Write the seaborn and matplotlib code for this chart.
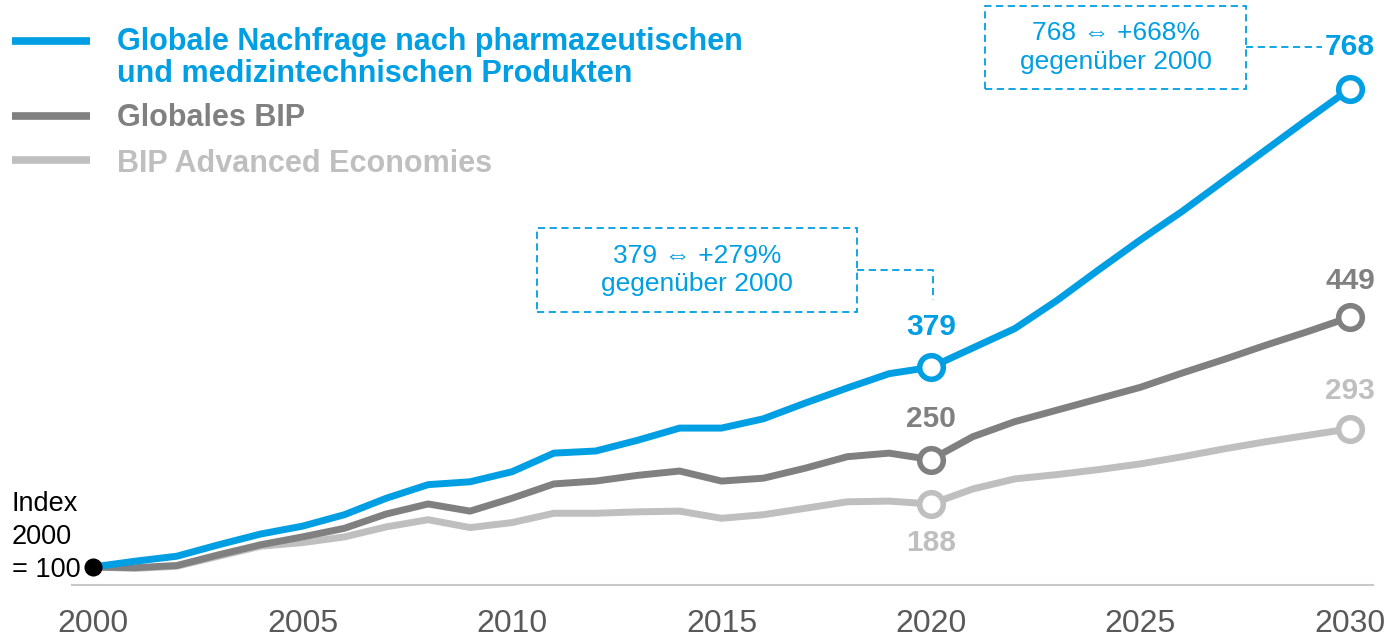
import pandas as pd
import seaborn as sns
import matplotlib.pyplot as plt
from matplotlib.lines import Line2D
from matplotlib.patches import Rectangle

# Werte (Index 2000 = 100)
jahre = list(range(2000, 2031))
nachfrage = [100, 108, 115, 131, 146, 157, 173, 196, 215, 219, 233, 259, 262, 277, 294, 294,
             307, 329, 350, 370, 379, 406, 433, 472, 515, 557, 597, 640, 683, 726, 768]
bip_global = [100, 99, 102, 117, 131, 142, 154, 174, 188, 178, 196, 216, 220, 228, 234, 220,
              224, 238, 254, 259, 250, 282, 303, 319, 335, 351, 371, 390, 410, 429, 449]
bip_advanced = [100, 98, 101, 115, 129, 134, 142, 156, 166, 155, 162, 175, 175, 177, 178, 168,
                173, 182, 191, 192, 188, 209, 223, 229, 236, 244, 254, 265, 275, 284, 293]

reihen = ["Globale Nachfrage nach pharmazeutischen\nund medizintechnischen Produkten",
          "Globales BIP", "BIP Advanced Economies"]
farben = ["#009FE3", "#808080", "#BFBFBF"]
markierte_jahre = [2020, 2030]
tick_jahre = [2000, 2005, 2010, 2015, 2020, 2025, 2030]

df = pd.DataFrame({
    "Jahr": jahre * 3,
    "Index": nachfrage + bip_global + bip_advanced,
    "Reihe": [reihen[0]] * len(jahre) + [reihen[1]] * len(jahre) + [reihen[2]] * len(jahre),
})

sns.set_style("white")
plt.rcParams["font.family"] = ["Liberation Sans", "DejaVu Sans"]

W, H = 1389, 638
fig = plt.figure(figsize=(W / 100, H / 100), dpi=100)
ax = fig.add_axes([72 / W, 53 / H, 1301 / W, 585 / H])


def fx(px):
    return px / W


def fy(py):
    return 1 - py / H


# Linien: hellste zuerst, blau oben
sns.lineplot(data=df, x="Jahr", y="Index", hue="Reihe", hue_order=reihen[::-1],
             palette=dict(zip(reihen, farben)), linewidth=5, legend=False, ax=ax,
             solid_capstyle="butt")

# Offene Kreise 2020 / 2030 mit Werten
offsets = {reihen[0]: [(0, 29), (0, 30)], reihen[1]: [(0, 29), (0, 26)], reihen[2]: [(0, -28), (0, 27)]}
for reihe, farbe, werte in zip(reihen, farben, [nachfrage, bip_global, bip_advanced]):
    for j, off in zip(markierte_jahre, offsets[reihe]):
        v = werte[jahre.index(j)]
        ax.plot(j, v, "o", ms=17, mfc="white", mec=farbe, mew=4, zorder=5)
        ax.annotate(str(v), (j, v), xytext=off, textcoords="offset points", ha="center",
                    va="center", fontsize=21.5, fontweight="bold", color=farbe)

ax.plot(jahre[0], nachfrage[0], "o", color="black", ms=12, zorder=6)

ax.set_xlim(2000 - 21 / 41.9, 2000 + 1280 / 41.9)
ax.set_ylim(74.8, 892)
ax.set_xticks(tick_jahre)
ax.set_xticklabels([str(t) for t in tick_jahre], fontsize=23, color="#595959")
ax.tick_params(axis="x", length=0, pad=17)
ax.set_yticks([])
ax.set_xlabel("")
ax.set_ylabel("")
sns.despine(ax=ax, left=True)
ax.spines["bottom"].set_color("#C8C8C8")
ax.spines["bottom"].set_linewidth(1.5)

fig.text(fx(12), fy(537), "Index\n2000\n= 100", fontsize=19.5, ha="left", va="center",
         linespacing=1.33, color="black")

# Legende oben links
leg_y = [41, 116, 160]
txt_y = [58, 118, 164]
for farbe, ly, ty, name in zip(farben, leg_y, txt_y, reihen):
    fig.add_artist(Line2D([fx(12), fx(90)], [fy(ly), fy(ly)], color=farbe, lw=5.5,
                          solid_capstyle="butt"))
    fig.text(fx(117), fy(ty), name, fontsize=22, fontweight="bold", color=farbe,
             ha="left", va="center", linespacing=1.05)

# Kommentarboxen
blau = farben[0]
boxen = [((537, 228, 857, 312), "379 ⇔ +279%\ngegenüber 2000",
          [(857, 270), (933, 270), (933, 300)]),
         ((985, 6, 1246, 89), "768 ⇔ +668%\ngegenüber 2000",
          [(1246, 47), (1322, 47)])]
for (x0, y0, x1, y1), text, pfad in boxen:
    fig.add_artist(Rectangle((fx(x0), fy(y1)), fx(x1) - fx(x0), fy(y0) - fy(y1), fill=False,
                             ec=blau, lw=1.3, ls=(0, (4, 2.5))))
    fig.text(fx((x0 + x1) / 2), fy((y0 + y1) / 2), text, fontsize=19, color=blau,
             ha="center", va="center", linespacing=1.25)
    fig.add_artist(Line2D([fx(p[0]) for p in pfad], [fy(p[1]) for p in pfad], color=blau,
                          lw=1.3, ls=(0, (4, 2.5))))

fig.savefig("out.png", dpi=100, facecolor="white")
